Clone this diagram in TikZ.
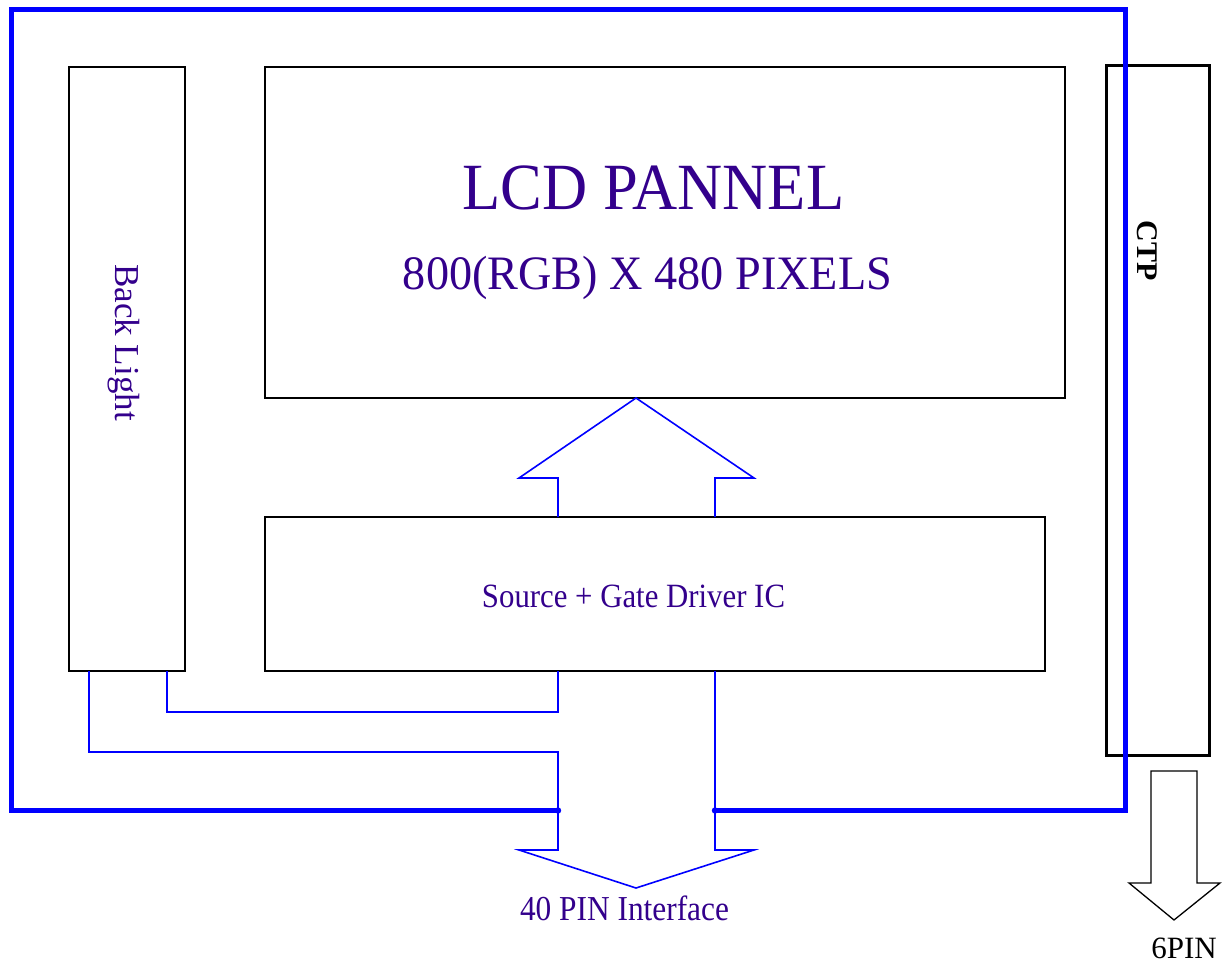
\documentclass[tikz,border=0pt]{standalone}
\usepackage{fontspec}
\setmainfont{Liberation Serif}
\definecolor{txtc}{RGB}{51,0,140}
\definecolor{lineblue}{RGB}{0,0,255}
\newcommand{\fs}[1]{\fontsize{#1}{#1}\selectfont}
\begin{document}
\begin{tikzpicture}[x=1pt,y=-1pt,
  box/.style={draw=black,line width=1.6pt,inner sep=0pt,outer sep=0pt,rectangle},
  ctpbox/.style={draw=black,line width=3pt,inner sep=0pt,outer sep=0pt,rectangle},
  conn/.style={draw=lineblue,line width=1.6pt,line join=miter},
  frame/.style={draw=lineblue,line width=5pt,line join=miter},
  lbl/.style={inner sep=0pt,outer sep=0pt,text=txtc,anchor=base}]
\useasboundingbox (0,0) rectangle (1224,965);

% boxes
\node[box,minimum width=116pt,minimum height=604pt] (bl) at (127,369) {};
\node[box,minimum width=800pt,minimum height=331pt] (lcd) at (665,232.5) {};
\node[box,minimum width=780pt,minimum height=154pt] (ic) at (655,594) {};
\node[ctpbox,minimum width=103pt,minimum height=689pt] (ctp) at (1158,410.5) {};

% coordinates
\coordinate (xL) at (558,0);
\coordinate (xR) at (715,0);
\coordinate (xB1) at (89,0);
\coordinate (xB2) at (167,0);
\coordinate (xA) at (636,0);
\coordinate (jL) at (558,810.5);
\coordinate (jR) at (715,810.5);

% outer frame
\draw[frame] (jL) -- (11,810.5) -- (11,9.5) -- (1125,9.5) -- (1125,810.5) -- (jR);
\fill[lineblue] (jL) circle (3.2pt) (jR) circle (3.2pt);

% up arrow
\draw[conn] (ic.north -| xL) -- (558,478) -- (519,478) -- (lcd.south -| xA)
  -- (754,478) -- (715,478) -- (ic.north -| xR);

% backlight connectors and down arrow
\draw[conn] (ic.south -| xL) -- (558,712) -- (167,712) -- (bl.south -| xB2);
\draw[conn] (bl.south -| xB1) -- (89,752) -- (558,752) -- (558,850) -- (519,850)
  -- (636,888) -- (754,850) -- (715,850) -- (ic.south -| xR);

% 6PIN arrow
\draw[black,line width=1.3pt,line join=miter] (1151,771) -- (1151,883) -- (1129,883)
  -- (1174,920) -- (1220,883) -- (1197,883) -- (1197,771) -- cycle;

% labels
\node[lbl] (t1) at (653.5,210) {\fs{66}\scalebox{0.947}[1]{LCD PANNEL}};
\node[lbl] (t2) at (647.5,290) {\fs{48}\scalebox{0.963}[1]{800(RGB) X 480 PIXELS}};
\node[lbl] (t3) at (633.5,607) {\fs{34}\scalebox{0.906}[1]{Source + Gate Driver IC}};
\node[lbl] (t4) at (624.5,920) {\fs{35}\scalebox{0.896}[1]{40 PIN Interface}};
\node[lbl,rotate=-90] (t5) at (115,342.5) {\fs{35}Back Light};
\node[lbl,rotate=-90,text=black] (t6) at (1137,251) {\fs{30}\bfseries CTP};
\node[lbl,text=black] (t7) at (1184,958) {\fs{31}6PIN};
\end{tikzpicture}
\end{document}
